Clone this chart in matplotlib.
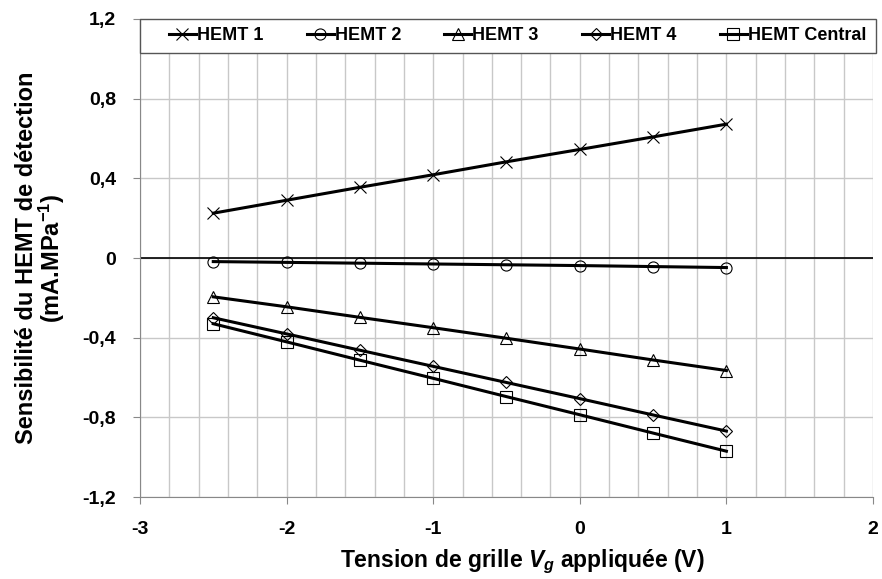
import matplotlib.pyplot as plt
from matplotlib.patches import Rectangle
from matplotlib.ticker import MultipleLocator, FuncFormatter
import numpy as np

plt.rcParams['font.family'] = ['Liberation Sans', 'DejaVu Sans']
plt.rcParams['font.weight'] = 'bold'
plt.rcParams['axes.labelweight'] = 'bold'
plt.rcParams['mathtext.fontset'] = 'custom'
plt.rcParams['mathtext.it'] = 'Liberation Sans:italic:bold'
plt.rcParams['mathtext.rm'] = 'Liberation Sans:bold'
plt.rcParams['mathtext.bf'] = 'Liberation Sans:bold'

vg = [-2.5, -2.0, -1.5, -1.0, -0.5, 0.0, 0.5, 1.0]
hemt1 = [0.225, 0.29, 0.355, 0.418, 0.483, 0.545, 0.608, 0.672]
hemt2 = [-0.018, -0.022, -0.026, -0.030, -0.034, -0.038, -0.043, -0.048]
hemt3 = [-0.195, -0.245, -0.298, -0.350, -0.403, -0.457, -0.512, -0.565]
hemt4 = [-0.300, -0.381, -0.463, -0.544, -0.625, -0.706, -0.788, -0.869]
central = [-0.330, -0.421, -0.513, -0.604, -0.696, -0.787, -0.879, -0.970]

series = [
    ("HEMT 1", hemt1, "x"),
    ("HEMT 2", hemt2, "o"),
    ("HEMT 3", hemt3, "^"),
    ("HEMT 4", hemt4, "D"),
    ("HEMT Central", central, "s"),
]

fig = plt.figure(figsize=(8.82, 5.79), dpi=100)
ax = fig.add_axes([0.1587, 0.1416, 0.8311, 0.8256])

grid_c = "#c8c8c8"
for name, ys, m in series:
    ms = 6.5 if m == "D" else 8
    ax.plot(vg, ys, color="black", lw=2.2, marker=m, ms=ms,
            mfc="none", mec="black", mew=0.8, label=name)

ax.axhline(0, color="black", lw=1.2, zorder=1)

ax.set_xlim(-3, 2)
ax.set_ylim(-1.2, 1.2)
ax.xaxis.set_major_locator(MultipleLocator(1))
ax.xaxis.set_minor_locator(MultipleLocator(0.2))
ax.yaxis.set_major_locator(MultipleLocator(0.4))
ax.grid(which="both", axis="x", color=grid_c, lw=1)
ax.grid(which="major", axis="y", color=grid_c, lw=1)
ax.set_axisbelow(True)

fmt = FuncFormatter(lambda v, p: ("%g" % round(v, 1)).replace(".", ","))
ax.yaxis.set_major_formatter(fmt)
ax.xaxis.set_major_formatter(fmt)

for s in ["top", "right"]:
    ax.spines[s].set_visible(False)
for s in ["left", "bottom"]:
    ax.spines[s].set_color("#888888")
ax.tick_params(which="major", length=5, color="#888888", labelsize=14, pad=12)
ax.tick_params(axis="x", which="minor", length=0)

ax.set_xlabel("Tension de grille $V_g$ appliquée (V)", fontsize=16.5,
              fontweight="bold", labelpad=7, x=0.522)
ax.set_ylabel("Sensibilité du HEMT de détection\n(mA.MPa$^{\\mathbf{-1}}$)",
              fontsize=17, fontweight="bold", labelpad=11, linespacing=0.95)

# legend box spans the full plot width, entries centred inside it
box = Rectangle((0, 0.929), 1.004, 0.071, transform=ax.transAxes,
                facecolor="white", edgecolor="#555555", lw=1.0,
                clip_on=False, zorder=4)
ax.add_patch(box)
leg = ax.legend(loc="center", bbox_to_anchor=(0.515, 0.9645), ncol=5,
                frameon=False, prop={"size": 13, "weight": "bold"},
                handlelength=1.5, handletextpad=0.05, columnspacing=2.4,
                borderpad=0, borderaxespad=0)
leg.set_zorder(5)

fig.savefig("out.png", dpi=100)
